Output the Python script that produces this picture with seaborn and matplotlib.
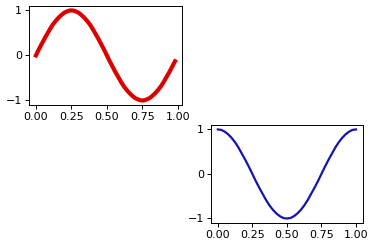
import matplotlib
matplotlib.use("Agg")
import matplotlib.pyplot as plt
import seaborn as sns
import pandas as pd

# top panel: x positions 0.00 .. 0.98 (step 0.02), red curve values
red_x = [i / 50 for i in range(50)]
red_vals = [0.0, 0.13, 0.25, 0.37, 0.48, 0.59, 0.69, 0.77, 0.84, 0.9,
            0.95, 0.98, 1.0, 1.0, 0.98, 0.95, 0.9, 0.84, 0.77, 0.69,
            0.59, 0.48, 0.37, 0.25, 0.13, 0.0, -0.13, -0.25, -0.37, -0.48,
            -0.59, -0.69, -0.77, -0.84, -0.9, -0.95, -0.98, -1.0, -1.0, -0.98,
            -0.95, -0.9, -0.84, -0.77, -0.69, -0.59, -0.48, -0.37, -0.25, -0.13]

# bottom panel: x positions 0 .. 1 (step 0.025), blue curve values
blue_x = [i / 40 for i in range(41)]
blue_vals = [1.0, 0.99, 0.95, 0.89, 0.81, 0.71, 0.59, 0.45, 0.31, 0.16, 0.0,
             -0.16, -0.31, -0.45, -0.59, -0.71, -0.81, -0.89, -0.95, -0.99, -1.0,
             -0.99, -0.95, -0.89, -0.81, -0.71, -0.59, -0.45, -0.31, -0.16, 0.0,
             0.16, 0.31, 0.45, 0.59, 0.71, 0.81, 0.89, 0.95, 0.99, 1.0]

x_ticks = [0.00, 0.25, 0.50, 0.75, 1.00]
x_ticklabels = ["0.00", "0.25", "0.50", "0.75", "1.00"]
y_ticks = [-1, 0, 1]
y_ticklabels = ["\u22121", "0", "1"]

plt.rcParams["font.family"] = ["DejaVu Sans"]
plt.rcParams["font.size"] = 8

df_top = pd.DataFrame({"x": red_x, "y": red_vals})
df_bot = pd.DataFrame({"x": blue_x, "y": blue_vals})

fig = plt.figure(figsize=(3.76, 2.48), dpi=100)
ax1 = fig.add_axes([0.077, 0.577, 0.407, 0.399])
ax2 = fig.add_axes([0.561, 0.101, 0.404, 0.395])

sns.lineplot(data=df_top, x="x", y="y", ax=ax1, color="#dd0000", linewidth=3.0)
sns.lineplot(data=df_bot, x="x", y="y", ax=ax2, color="#1414b0", linewidth=1.6)

for ax in (ax1, ax2):
    ax.set_xticks(x_ticks)
    ax.set_xticklabels(x_ticklabels)
    ax.set_yticks(y_ticks)
    ax.set_yticklabels(y_ticklabels)
    ax.set_xlabel("")
    ax.set_ylabel("")
    ax.tick_params(labelsize=8, length=3, width=0.7, pad=2)
    for s in ax.spines.values():
        s.set_linewidth(0.7)

fig.savefig("out.png", dpi=100)
